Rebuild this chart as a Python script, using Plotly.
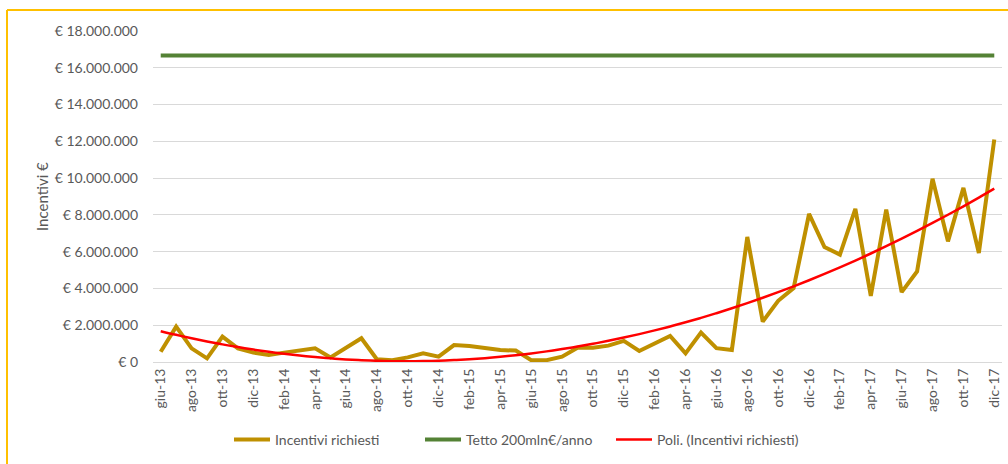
import numpy as np
import plotly.graph_objects as go

months = ["gen", "feb", "mar", "apr", "mag", "giu", "lug", "ago", "set", "ott", "nov", "dic"]
categories = [f"{months[(5 + i) % 12]}-{13 + (5 + i) // 12}" for i in range(55)]

incentivi = [
    0.56, 1.92, 0.74, 0.20, 1.38, 0.74, 0.51,            # giu-13 .. dic-13
    0.38, 0.51, 0.65, 0.74, 0.25, 0.74, 1.29, 0.15, 0.10, 0.25, 0.47, 0.29,  # 2014
    0.92, 0.87, 0.74, 0.65, 0.62, 0.10, 0.10, 0.29, 0.78, 0.78, 0.89, 1.15,  # 2015
    0.60, 1.02, 1.42, 0.47, 1.60, 0.75, 0.65, 6.80, 2.20, 3.33, 4.02, 8.05,  # 2016
    6.25, 5.84, 8.33, 3.60, 8.29, 3.80, 4.93, 9.96, 6.56, 9.47, 5.93, 12.10, # 2017
]
incentivi = [v * 1e6 for v in incentivi]
tetto = [200e6 / 12] * len(categories)

y_ticks = [0, 2e6, 4e6, 6e6, 8e6, 10e6, 12e6, 14e6, 16e6, 18e6]
y_ticktext = ["€ 0", "€ 2.000.000", "€ 4.000.000", "€ 6.000.000", "€ 8.000.000",
              "€ 10.000.000", "€ 12.000.000", "€ 14.000.000", "€ 16.000.000", "€ 18.000.000"]

x_idx = np.arange(len(categories))
coef = np.polyfit(x_idx, incentivi, 2)
trend = np.polyval(coef, x_idx)

font_fam = "Lato, 'Open Sans', sans-serif"
txt_col = "#595959"

fig = go.Figure()
fig.add_trace(go.Scatter(x=x_idx, y=incentivi, mode="lines", name="Incentivi richiesti",
                         line=dict(color="#BF9000", width=4)))
fig.add_trace(go.Scatter(x=x_idx, y=tetto, mode="lines", name="Tetto 200mln€/anno",
                         line=dict(color="#548235", width=4)))
fig.add_trace(go.Scatter(x=x_idx, y=trend, mode="lines", name="Poli. (Incentivi richiesti)",
                         line=dict(color="#FF0000", width=2.5, shape="spline")))

W, H = 1008, 464
L, R, T, B = 153, 6, 31, 102
pw, ph = W - L - R, H - T - B

def px_x(x):
    return (x - L) / pw

def px_y(y):
    return (H - B - y) / ph

fig.update_layout(
    width=W, height=H,
    margin=dict(l=L, r=R, t=T, b=B),
    paper_bgcolor="white", plot_bgcolor="white",
    font=dict(family=font_fam, color=txt_col, size=14),
    showlegend=True,
    legend=dict(orientation="h", x=px_x(229), xanchor="left", y=px_y(440), yanchor="middle",
                font=dict(size=14, color=txt_col), itemwidth=36, tracegroupgap=0,
                entrywidth=140, entrywidthmode="pixels",
                bgcolor="rgba(0,0,0,0)"),
    xaxis=dict(range=[-0.5, len(categories) - 0.5], tickmode="array",
               tickvals=list(x_idx[::2]), ticktext=categories[::2], tickangle=-90,
               showgrid=False, zeroline=False, showline=True, linecolor="#D9D9D9", linewidth=1,
               ticks="", tickfont=dict(size=14, color=txt_col)),
    yaxis=dict(range=[0, 18e6], tickmode="array", tickvals=y_ticks, ticktext=y_ticktext,
               showgrid=True, gridcolor="#D9D9D9", gridwidth=1, zeroline=False,
               ticks="", ticklabelstandoff=14, tickfont=dict(size=14, color=txt_col)),
    annotations=[dict(text="Incentivi €", xref="paper", yref="paper", x=px_x(42), y=px_y(196),
                      textangle=-90, showarrow=False, font=dict(size=15, color=txt_col),
                      xanchor="center", yanchor="middle")],
    shapes=[
        dict(type="line", xref="paper", yref="paper", x0=px_x(7), x1=px_x(1010),
             y0=px_y(10), y1=px_y(10), line=dict(color="#FFC000", width=2)),
        dict(type="line", xref="paper", yref="paper", x0=px_x(7), x1=px_x(7),
             y0=px_y(10), y1=px_y(466), line=dict(color="#FFC000", width=2)),
    ],
)

fig.write_html("out.html", config={"displayModeBar": False},
               post_script="document.body.style.margin='0';document.body.style.overflow='hidden';")
